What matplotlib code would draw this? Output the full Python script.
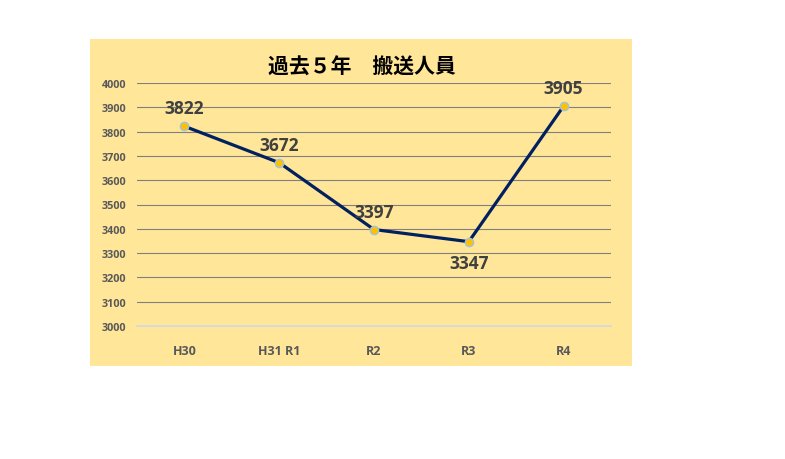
import matplotlib
matplotlib.use("Agg")
import matplotlib.pyplot as plt
from matplotlib.patches import Rectangle

categories = ["H30", "H31 R1", "R2", "R3", "R4"]
values = [3822, 3672, 3397, 3347, 3905]
label_pos = ["above", "above", "above", "below", "above"]
yticks = [3000, 3100, 3200, 3300, 3400, 3500, 3600, 3700, 3800, 3900, 4000]
title = "過去５年　搬送人員"

plt.rcParams['font.family'] = ['Open Sans', 'Noto Sans CJK JP', 'DejaVu Sans']

fig = plt.figure(figsize=(7.85, 4.6), dpi=100)
fig.patch.set_facecolor("white")
fig.patches.append(Rectangle((90/785, 1-367/460), 542/785, 327/460,
                             transform=fig.transFigure, facecolor="#ffe699",
                             edgecolor="none", zorder=-10))

ax = fig.add_axes([137/785, 1-327/460, 474/785, 243/460])
ax.set_zorder(5)
ax.set_facecolor("none")
ax.set_xlim(-0.5, len(categories) - 0.5)
ax.set_ylim(3000, 4000)
ax.set_yticks(yticks)
ax.set_yticklabels([str(t) for t in yticks], fontsize=7.8, fontweight="bold", color="#595959")
ax.set_xticks(range(len(categories)))
ax.set_xticklabels(categories, fontsize=9, fontweight="bold", color="#595959")
ax.tick_params(axis="both", length=0)
ax.tick_params(axis="y", pad=7.5)
ax.tick_params(axis="x", pad=13)
for s in ax.spines.values():
    s.set_visible(False)
for t in yticks:
    if t == 3000:
        ax.axhline(t, color="#cfd8e3", lw=1.2, zorder=1, clip_on=False)
    else:
        ax.axhline(t, color="#7f7f7f", lw=0.8, zorder=1)

x = list(range(len(categories)))
ax.plot(x, values, color="#002060", lw=2.3, zorder=3,
        marker="o", markersize=6, markerfacecolor="#ffc000",
        markeredgecolor="#9dc3e6", markeredgewidth=1.0)

for xi, v, p in zip(x, values, label_pos):
    if p == "above":
        ax.annotate(str(v), (xi, v), xytext=(0, 6.5), textcoords="offset points",
                    ha="center", va="bottom", fontsize=12.5, fontweight="bold", color="#404040")
    else:
        ax.annotate(str(v), (xi, v), xytext=(0, -9), textcoords="offset points",
                    ha="center", va="top", fontsize=12.5, fontweight="bold", color="#404040")

fig.text(362/785, 1-67/460, title, ha="center", va="center", fontsize=15,
         fontweight="bold", color="black", family=['Noto Sans CJK JP', 'DejaVu Sans'])

fig.savefig("out.png", dpi=100)
